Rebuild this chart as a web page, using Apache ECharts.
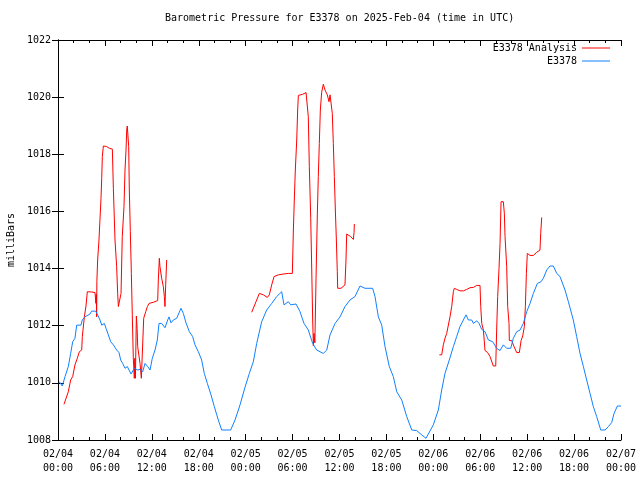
<!DOCTYPE html>
<html>
<head>
<meta charset="utf-8">
<script src="https://cdn.jsdelivr.net/npm/echarts@6/dist/echarts.min.js"></script>
<style>html,body{margin:0;padding:0;background:#fff}#c{width:640px;height:480px}</style>
</head>
<body>
<div id="c"></div>
<script>
// Hours since 02/04 00:00 UTC
var xTickDates = ['02/04','02/04','02/04','02/04','02/05','02/05','02/05','02/05','02/06','02/06','02/06','02/06','02/07'];
var xTickTimes = ['00:00','06:00','12:00','18:00','00:00','06:00','12:00','18:00','00:00','06:00','12:00','18:00','00:00'];

var blueHours = [0.17,0.55,0.9,1.32,1.62,1.88,2.17,2.39,2.94,3.1,3.45,4.09,4.3,4.82,5.07,5.37,5.59,5.93,6.14,6.44,6.74,7.08,7.5,7.8,8.02,8.27,8.57,8.87,9.08,9.34,9.76,10.19,10.49,10.83,11.13,11.47,11.77,12.06,12.41,12.7,12.92,13.26,13.68,14.03,14.2,14.45,14.75,15.18,15.73,16.03,16.37,16.8,17.22,17.52,17.95,18.37,18.71,19.1,19.57,19.99,20.5,20.93,22.08,22.64,23.28,23.92,24.47,24.98,25.41,26.05,26.69,27.33,27.97,28.61,28.9,29.46,29.76,30.44,30.95,31.46,32.01,32.57,33.08,33.93,34.37,34.79,35.43,36.07,36.7,37.34,37.98,38.62,39.26,39.9,40.24,40.54,40.97,41.4,41.82,42.37,42.88,43.32,43.96,44.6,45.24,45.87,46.51,47.06,47.36,48.0,48.64,49.07,49.49,50.04,50.56,50.99,51.41,51.84,52.18,52.48,52.91,53.12,53.55,53.85,54.19,54.61,55.04,55.59,56.1,56.53,56.95,57.38,57.9,58.23,58.66,59.09,59.51,59.94,60.37,60.79,61.3,61.77,62.07,62.5,62.92,63.35,63.78,64.2,64.42,64.84,65.27,65.9,66.33,66.76,67.19,67.61,68.04,68.46,68.89,69.41,69.96,70.39,70.81,71.11,71.54,72.0];
var bluePressure = [1010.04,1009.89,1010.22,1010.57,1011.03,1011.44,1011.56,1012.02,1012.02,1012.2,1012.31,1012.41,1012.51,1012.51,1012.38,1012.2,1012.02,1012.08,1011.91,1011.68,1011.44,1011.33,1011.15,1011.06,1010.8,1010.68,1010.51,1010.57,1010.45,1010.31,1010.51,1010.45,1010.47,1010.39,1010.68,1010.57,1010.45,1010.86,1011.15,1011.5,1012.08,1012.08,1011.93,1012.2,1012.31,1012.1,1012.2,1012.26,1012.61,1012.43,1012.1,1011.79,1011.62,1011.33,1011.09,1010.8,1010.33,1009.98,1009.58,1009.17,1008.7,1008.35,1008.35,1008.7,1009.23,1009.85,1010.33,1010.74,1011.38,1012.14,1012.55,1012.78,1013.02,1013.19,1012.73,1012.84,1012.73,1012.76,1012.49,1012.08,1011.85,1011.38,1011.15,1011.03,1011.15,1011.68,1012.08,1012.31,1012.67,1012.9,1013.02,1013.39,1013.31,1013.31,1013.31,1013.02,1012.31,1012.02,1011.27,1010.57,1010.22,1009.69,1009.4,1008.82,1008.35,1008.33,1008.18,1008.06,1008.21,1008.53,1009.05,1009.75,1010.33,1010.8,1011.27,1011.62,1011.97,1012.2,1012.38,1012.2,1012.2,1012.08,1012.17,1012.08,1011.87,1011.79,1011.5,1011.44,1011.21,1011.13,1011.33,1011.21,1011.21,1011.56,1011.79,1011.85,1012.08,1012.49,1012.78,1013.13,1013.48,1013.54,1013.66,1013.95,1014.09,1014.09,1013.83,1013.72,1013.78,1013.25,1012.84,1012.2,1011.62,1011.03,1010.57,1010.1,1009.63,1009.17,1008.82,1008.35,1008.35,1008.47,1008.61,1008.93,1009.19,1009.19];

var redHours = [0.77,0.98,1.32,1.62,1.88,2.17,2.47,2.73,3.03,3.11,3.37,3.58,3.75,4.3,4.73,4.85,4.9,4.94,4.97,5.07,5.24,5.37,5.5,5.59,5.67,5.8,6.22,6.57,6.95,7.08,7.29,7.5,7.63,7.72,7.97,8.06,8.22,8.44,8.57,8.7,8.79,8.86,8.99,9.04,9.12,9.25,9.38,9.5,9.63,9.76,9.82,9.9,10.02,10.12,10.19,10.35,10.49,10.66,10.91,10.96,11.22,11.43,11.64,12.19,12.75,12.83,12.96,13.04,13.12,13.26,13.47,13.6,13.68,13.77,13.9,13.94,
  19.0,
  24.77,24.98,25.32,25.75,26.26,26.77,27.02,27.33,27.63,28.18,28.82,29.46,29.97,30.01,30.1,30.22,30.35,30.53,30.65,30.74,31.29,31.72,31.97,32.01,32.14,32.32,32.45,32.57,32.66,32.74,32.85,33.0,33.17,33.29,33.42,33.55,33.72,33.93,34.15,34.44,34.66,34.79,34.96,35.08,35.21,35.34,35.47,35.6,35.72,35.77,36.19,36.7,36.83,36.92,37.43,37.77,37.86,37.9,
  43.0,
  48.77,49.07,49.28,49.49,49.71,49.9,50.13,50.35,50.56,50.68,50.99,51.41,51.84,52.27,52.69,53.12,53.55,53.97,54.06,54.19,54.4,54.61,54.95,55.25,55.67,55.98,56.1,56.23,56.4,56.53,56.66,56.95,57.08,57.17,57.38,57.51,57.68,57.72,58.02,58.32,58.66,59.0,59.22,59.43,59.64,59.77,59.9,60.02,60.37,60.79,61.22,61.64,61.73,61.86,61.94];
var redPressure = [1009.25,1009.25,1009.69,1010.1,1010.22,1010.63,1010.86,1011.09,1011.15,1011.62,1012.31,1012.69,1013.19,1013.18,1013.16,1012.78,1013.1,1012.31,1013.54,1014.3,1015.0,1015.73,1016.46,1017.16,1017.92,1018.29,1018.27,1018.21,1018.18,1016.81,1015.0,1014.07,1013.13,1012.67,1012.67,1013.13,1015.12,1016.17,1017.45,1018.15,1018.85,1018.99,1018.99,1018.27,1016.75,1015.29,1013.83,1012.38,1010.86,1010.16,1010.86,1010.16,1012.34,1011.9,1011.27,1011.27,1010.68,1010.16,1010.16,1012.26,1012.49,1012.67,1012.78,1012.82,1012.88,1013.6,1014.36,1014.07,1014.1,1013.66,1013.37,1013.02,1012.67,1013.43,1014.3,1014.3,
  null,
  1012.47,1012.47,1012.84,1013.13,1013.08,1012.99,1013.08,1013.43,1013.72,1013.78,1013.81,1013.83,1013.83,1014.3,1015.35,1016.4,1017.45,1018.5,1019.55,1020.06,1020.1,1020.16,1020.19,1019.32,1017.57,1015.76,1013.95,1012.2,1011.29,1011.73,1011.4,1013.66,1015.94,1017.22,1018.38,1019.55,1020.17,1020.45,1020.25,1020.08,1019.84,1020.08,1020.08,1019.43,1018.38,1017.22,1016.05,1015.0,1013.89,1013.31,1013.31,1013.43,1014.3,1015.21,1015.12,1015.02,1015.26,1015.56,
  null,
  1010.98,1010.98,1011.33,1011.56,1011.73,1011.73,1012.31,1012.67,1013.19,1013.31,1013.27,1013.22,1013.22,1013.27,1013.33,1013.34,1013.41,1013.41,1012.67,1012.08,1011.85,1011.13,1011.06,1010.92,1010.59,1010.59,1011.85,1013.02,1014.01,1014.88,1016.34,1016.34,1015.94,1015.12,1014.07,1012.67,1012.08,1011.48,1011.48,1011.27,1011.06,1011.06,1011.48,1011.64,1011.97,1012.67,1013.83,1014.53,1014.46,1014.46,1014.57,1014.65,1015.23,1015.79,1015.79];

var FONT = 'DejaVu Sans Mono';
function pairs(xs, ys) { return xs.map(function (x, i) { return [x, ys[i] === null ? '-' : ys[i]]; }); }

var chart = echarts.init(document.getElementById('c'), null, { renderer: 'canvas' });
var axisLineStyle = { color: '#000', width: 1 };
chart.setOption({
  animation: false,
  backgroundColor: '#fff',
  title: {
    text: 'Barometric Pressure for E3378 on 2025-Feb-04 (time in UTC)',
    left: 165, top: 13, padding: 0,
    textStyle: { fontFamily: FONT, fontSize: 10, fontWeight: 'normal', color: '#000' }
  },
  legend: [
    { data: ['E3378 Analysis'], right: 30, top: 43, padding: 0, align: 'right', icon: 'rect', itemWidth: 28, itemHeight: 1, itemGap: 0,
      textStyle: { fontFamily: FONT, fontSize: 10, color: '#000' } },
    { data: ['E3378'], right: 30, top: 56, padding: 0, align: 'right', icon: 'rect', itemWidth: 28, itemHeight: 1, itemGap: 0,
      textStyle: { fontFamily: FONT, fontSize: 10, color: '#000' } }
  ],
  grid: { left: 58, right: 19, top: 40, bottom: 40, containLabel: false, outerBoundsMode: 'none' },
  xAxis: [
    { type: 'value', min: 0, max: 72, interval: 6, position: 'bottom',
      axisLine: { lineStyle: axisLineStyle },
      axisTick: { inside: true, length: 6, lineStyle: axisLineStyle },
      minorTick: { show: true, splitNumber: 3, length: 3, lineStyle: axisLineStyle },
      splitLine: { show: false },
      axisLabel: { fontFamily: FONT, fontSize: 10, color: '#000', lineHeight: 14, margin: 7, hideOverlap: false,
        formatter: function (v) { var i = Math.round(v / 6); return xTickDates[i] + '\n' + xTickTimes[i]; } } },
    { type: 'value', min: 0, max: 72, interval: 6, position: 'top',
      axisLine: { lineStyle: axisLineStyle },
      axisTick: { inside: true, length: 6, lineStyle: axisLineStyle },
      minorTick: { show: true, splitNumber: 3, length: 3, lineStyle: axisLineStyle },
      splitLine: { show: false }, axisLabel: { show: false } }
  ],
  yAxis: [
    { type: 'value', min: 1008, max: 1022, interval: 2, position: 'left',
      name: 'milliBars', nameLocation: 'middle', nameRotate: 90, nameGap: 42,
      nameTextStyle: { fontFamily: FONT, fontSize: 10, color: '#000' },
      axisLine: { show: true, lineStyle: axisLineStyle },
      axisTick: { show: true, inside: true, length: 6, lineStyle: axisLineStyle },
      splitLine: { show: false },
      axisLabel: { fontFamily: FONT, fontSize: 10, color: '#000', margin: 7, formatter: function (v) { return String(v); } } },
    { type: 'value', min: 1008, max: 1022, interval: 2, position: 'right',
      axisLine: { show: true, lineStyle: axisLineStyle },
      axisTick: { show: true, inside: true, length: 6, lineStyle: axisLineStyle },
      splitLine: { show: false }, axisLabel: { show: false } }
  ],
  series: [
    { name: 'E3378 Analysis', type: 'line', xAxisIndex: 0, yAxisIndex: 0, data: pairs(redHours, redPressure),
      showSymbol: false, symbol: 'none', connectNulls: false,
      lineStyle: { color: '#ff0000', width: 1 }, itemStyle: { color: '#ff0000' } },
    { name: 'E3378', type: 'line', xAxisIndex: 0, yAxisIndex: 0, data: pairs(blueHours, bluePressure),
      showSymbol: false, symbol: 'none',
      lineStyle: { color: '#1080ff', width: 1 }, itemStyle: { color: '#1080ff' } }
  ]
});
</script>
</body>
</html>
